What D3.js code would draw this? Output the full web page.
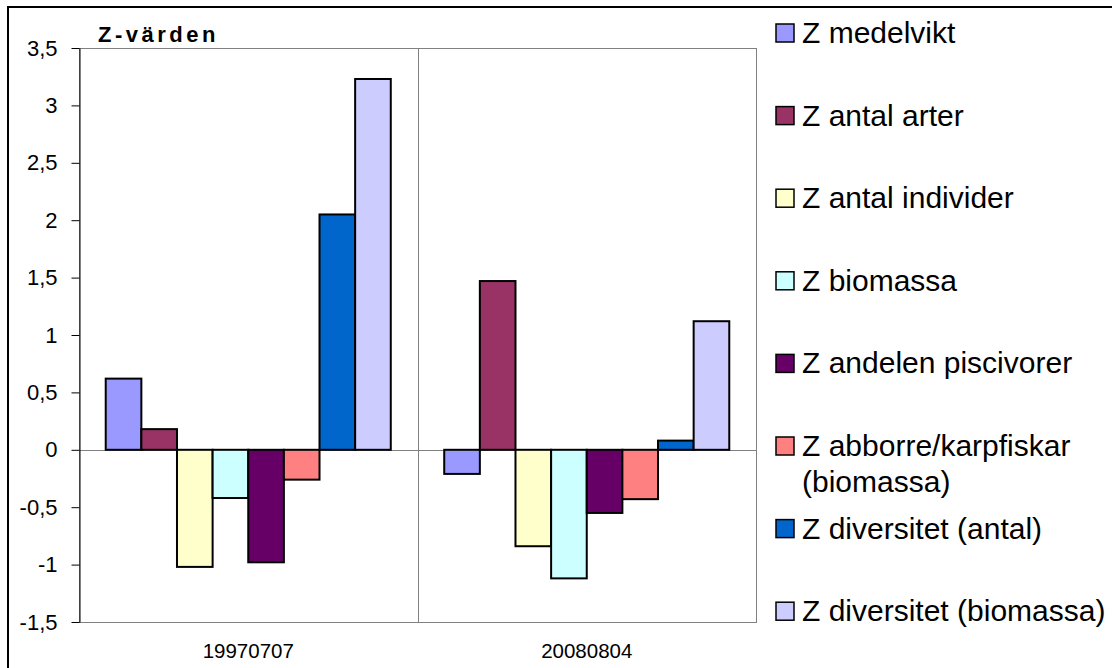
<!DOCTYPE html>
<html><head><meta charset="utf-8">
<script src="https://cdn.jsdelivr.net/npm/d3@7"></script>
<style>
body{margin:0;background:#fff}
svg text{font-family:"Liberation Sans",Arial,sans-serif;fill:#000}
</style>
</head><body>
<svg id="chart" width="1112" height="668"></svg>
<script>
const categories = ["19970707", "20080804"];
const seriesNames = ["Z medelvikt", "Z antal arter", "Z antal individer", "Z biomassa",
  "Z andelen piscivorer", "Z abborre/karpfiskar (biomassa)", "Z diversitet (antal)", "Z diversitet (biomassa)"];
const legendLines = [["Z medelvikt"], ["Z antal arter"], ["Z antal individer"], ["Z biomassa"],
  ["Z andelen piscivorer"], ["Z abborre/karpfiskar", "(biomassa)"], ["Z diversitet (antal)"], ["Z diversitet (biomassa)"]];
const colors = ["#9999FF", "#993366", "#FFFFCC", "#CCFFFF", "#660066", "#FF8080", "#0066CC", "#CCCCFF"];
const values1997 = [0.62, 0.18, -1.02, -0.42, -0.98, -0.26, 2.05, 3.23];
const values2008 = [-0.21, 1.47, -0.84, -1.12, -0.55, -0.43, 0.08, 1.12];
const yTicks = [-1.5, -1, -0.5, 0, 0.5, 1, 1.5, 2, 2.5, 3, 3.5];
const titleText = "Z-värden";

const valuesByCat = [values1997, values2008];
const svg = d3.select("#chart");
const L = 79, R = 756, T = 48, B = 622;

// outer border
svg.append("rect").attr("x", 8).attr("y", 7).attr("width", 1200).attr("height", 800)
  .attr("fill", "none").attr("stroke", "#000").attr("stroke-width", 2);

const y = d3.scaleLinear().domain([-1.5, 3.5]).range([B, T]);
const x0 = d3.scaleBand().domain(categories).range([L, R]).paddingInner(0).paddingOuter(0);
const x1 = d3.scaleBand().domain(d3.range(seriesNames.length)).range([0, x0.bandwidth()])
  .paddingInner(0).paddingOuter(0.75);

// plot frame
svg.append("rect").attr("x", L + 0.5).attr("y", T + 0.5).attr("width", R - L).attr("height", B - T)
  .attr("fill", "#fff").attr("stroke", "#808080").attr("stroke-width", 1);

// vertical gridline between categories
svg.append("g").selectAll("line").data(categories.slice(1)).join("line")
  .attr("x1", d => Math.round(x0(d)) + 0.5).attr("x2", d => Math.round(x0(d)) + 0.5)
  .attr("y1", T).attr("y2", B).attr("stroke", "#808080");

// zero line (category axis)
const zy = Math.round(y(0)) + 0.5;
svg.append("line").attr("x1", L).attr("x2", R).attr("y1", zy).attr("y2", zy).attr("stroke", "#808080");
svg.append("g").selectAll("line").data(categories.slice(1).concat(["end"])).join("line")
  .attr("x1", d => (d === "end" ? R : Math.round(x0(d))) + 0.5)
  .attr("x2", d => (d === "end" ? R : Math.round(x0(d))) + 0.5)
  .attr("y1", zy).attr("y2", zy + 5).attr("stroke", "#808080");

// bars
const groups = svg.append("g").selectAll("g").data(categories).join("g")
  .attr("transform", d => `translate(${x0(d)},0)`);
groups.selectAll("rect").data((d, ci) => valuesByCat[ci].map((v, si) => ({v, si}))).join("rect")
  .attr("x", d => x1(d.si))
  .attr("width", x1.bandwidth())
  .attr("y", d => y(Math.max(0, d.v)))
  .attr("height", d => Math.abs(y(d.v) - y(0)))
  .attr("fill", d => colors[d.si])
  .attr("stroke", "#000").attr("stroke-width", 2);

// y axis
const yAxis = d3.axisLeft(y).tickValues(yTicks).tickSize(8).tickSizeOuter(0).tickPadding(14)
  .tickFormat(d => String(d).replace(".", ","));
const ya = svg.append("g").attr("transform", `translate(${L + 0.5},0)`).call(yAxis);
ya.selectAll("path,line").attr("stroke", "#000");
ya.selectAll("text").style("font-size", "22px").attr("fill", "#000");

// category labels
svg.append("g").selectAll("text").data(categories).join("text")
  .attr("x", d => x0(d) + x0.bandwidth() / 2).attr("y", 658)
  .attr("text-anchor", "middle").style("font-size", "20.5px").text(d => d);

// title
svg.append("text").attr("x", 98).attr("y", 42).style("font-size", "22px").style("font-weight", "bold")
  .style("letter-spacing", "3.5px").text(titleText);

// legend
const leg = svg.append("g").selectAll("g").data(legendLines).join("g")
  .attr("transform", (d, i) => `translate(776,${43 + i * 82.6})`);
leg.append("rect").attr("x", 0).attr("y", -19).attr("width", 18).attr("height", 18)
  .attr("fill", (d, i) => colors[i]).attr("stroke", "#000").attr("stroke-width", 1.5);
leg.append("text").attr("x", 26).attr("y", 0).style("font-size", "30px")
  .selectAll("tspan").data(d => d).join("tspan")
  .attr("x", 26).attr("dy", (d, i) => i === 0 ? 0 : 36).text(d => d);
</script>
</body></html>
